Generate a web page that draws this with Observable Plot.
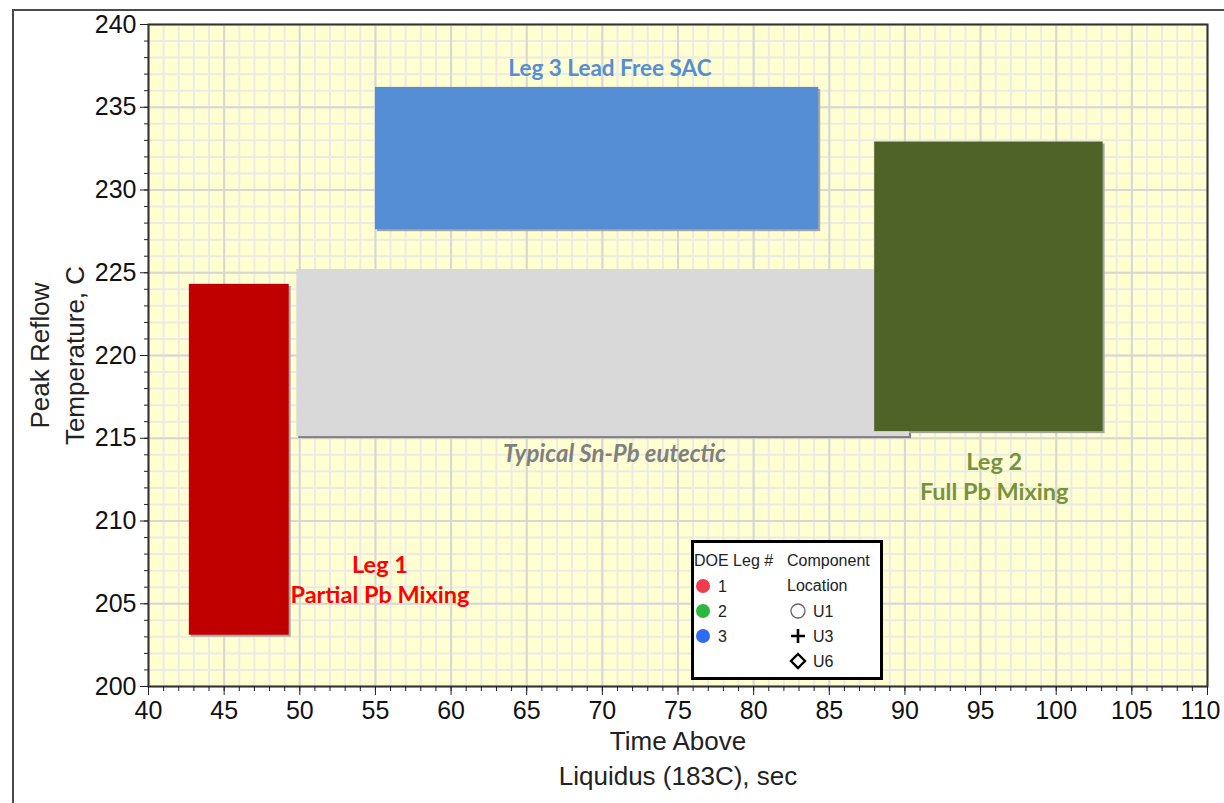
<!DOCTYPE html>
<html>
<head>
<meta charset="utf-8">
<script src="https://cdn.jsdelivr.net/npm/d3@7"></script>
<script src="https://cdn.jsdelivr.net/npm/@observablehq/plot@0.6"></script>
<style>
  html, body { margin: 0; padding: 0; background: #fff; overflow: hidden; }
  #wrap { position: relative; width: 1224px; height: 803px; }
  #outer { position: absolute; left: 12px; top: 9px; width: 1400px; height: 1000px; border-left: 2px solid #4a4a4a; border-top: 2px solid #4a4a4a; pointer-events: none; }
  #legend { position: absolute; left: 691px; top: 540px; width: 186px; height: 134px; border: 3px solid #000; background: #fff; }
</style>
</head>
<body>
<div id="wrap">
  <div id="chart"></div>
  <div id="outer"></div>
  <div id="legend"></div>
</div>
<script>
// ---- data ----
const regions = ["Typical Sn-Pb eutectic", "Leg 1", "Leg 3", "Leg 2"];
const timeStart = [49.8, 42.7, 55, 88];
const timeEnd = [90.3, 49.3, 84.3, 103.1];
const tempLow = [215.1, 203.1, 227.6, 215.4];
const tempHigh = [225.2, 224.3, 236.2, 232.9];
const regionColors = ["#D9D9D9", "#C00000", "#558ED5", "#4F6228"];
const shadowColors = ["#7F7F7F", "#A6A6A6", "#A6A6A6", "#A6A6A6"];

const labelText = ["Leg 3 Lead Free SAC", "Leg 2\nFull Pb Mixing", "Leg 1\nPartial Pb Mixing"];
const labelTime = [70.5, 95.9, 55.3];
const labelTemp = [237.45, 212.75, 206.55];
const labelSizes = [22.5, 23.5, 23.5];
const labelColors = ["#558ED5", "#77933C", "#FF0000"];
const noteText = "Typical Sn-Pb eutectic";
const noteTime = 70.8;
const noteTemp = 214.05;

const xMajor = d3.range(40, 111, 5);
const xMinor = d3.range(40, 111, 1);
const yMajor = d3.range(200, 241, 5);
const yMinor = d3.range(200, 241, 1);

const legLabels = ["1", "2", "3"];
const legColors = ["#F23B4F", "#2DB83D", "#2F6BF5"];
const locLabels = ["U1", "U3", "U6"];
const locSymbols = ["circle", "plus", "diamond"];

// ---- build ----
const boxes = regions.map((r, i) => ({
  r, x1: timeStart[i], x2: timeEnd[i], y1: tempLow[i], y2: tempHigh[i],
  fill: regionColors[i], shadow: shadowColors[i]
}));
const labels = labelText.map((t, i) => ({t, x: labelTime[i], y: labelTemp[i], fill: labelColors[i], size: labelSizes[i]}));

const font = "'Liberation Sans', Arial, sans-serif";
const calib = "Lato, 'Open Sans', sans-serif";
const lastX = xMajor[xMajor.length - 1];

const chart = Plot.plot({
  width: 1224,
  height: 803,
  marginLeft: 148,
  marginRight: 17,
  marginTop: 24,
  marginBottom: 117,
  style: {fontFamily: font, background: "transparent", color: "#111"},
  x: {domain: [40, 110]},
  y: {domain: [200, 240]},
  color: {type: "identity"},
  marks: [
    Plot.frame({fill: "#FFFFD2", stroke: null}),
    Plot.gridX(xMinor, {stroke: "#EBEBE3", strokeOpacity: 1, strokeWidth: 2}),
    Plot.gridY(yMinor, {stroke: "#EBEBE3", strokeOpacity: 1, strokeWidth: 2}),
    Plot.gridX(xMajor, {stroke: "#D8D8D0", strokeOpacity: 1, strokeWidth: 2}),
    Plot.gridY(yMajor, {stroke: "#D8D8D0", strokeOpacity: 1, strokeWidth: 2}),
    Plot.rect(boxes, {x1: "x1", x2: "x2", y1: "y1", y2: "y2", fill: "shadow", dx: 2, dy: 2}),
    Plot.rect(boxes, {x1: "x1", x2: "x2", y1: "y1", y2: "y2", fill: "fill"}),
    ...labels.map(l => Plot.text([l], {x: "x", y: "y", text: "t", fill: "fill", fontFamily: calib, fontWeight: "bold", fontSize: l.size, lineHeight: 1.28})),
    Plot.text([noteText], {x: () => noteTime, y: () => noteTemp, text: d => d, fill: "#7F7F7F", fontFamily: calib, fontWeight: "bold", fontStyle: "italic", fontSize: 24}),
    Plot.frame({stroke: "#333", strokeWidth: 2}),
    Plot.axisX(xMinor, {tickSize: 5, text: null, label: null, stroke: "#222"}),
    Plot.axisY(yMinor, {tickSize: 4, text: null, label: null, stroke: "#222"}),
    Plot.axisX(xMajor, {tickSize: 9, tickPadding: 6, fontSize: 25, label: null, stroke: "#222", fill: "#111", tickFormat: d => d === lastX ? "" : d}),
    Plot.axisX([lastX], {tickSize: 0, tickPadding: 15, dx: -7, fontSize: 25, label: null, fill: "#111"}),
    Plot.axisY(yMajor, {tickSize: 8, tickPadding: 4, fontSize: 25, label: null, stroke: "#222", fill: "#111"}),
    Plot.text(["Time Above"], {frameAnchor: "bottom", dy: 63, fontSize: 26, fill: "#222"}),
    Plot.text(["Liquidus (183C), sec"], {frameAnchor: "bottom", dy: 98, fontSize: 26, fill: "#222"}),
    Plot.text(["Peak Reflow"], {frameAnchor: "left", textAnchor: "middle", dx: -108, rotate: -90, fontSize: 26, fill: "#222"}),
    Plot.text(["Temperature, C"], {frameAnchor: "left", textAnchor: "middle", dx: -73, rotate: -90, fontSize: 26, fill: "#222"})
  ]
});
document.getElementById("chart").append(chart);

// ---- legend ----
const lg = d3.select("#legend").append("svg").attr("width", 186).attr("height", 134)
  .style("font-family", font).style("font-size", "16px").style("fill", "#222");
lg.append("text").attr("x", 0).attr("y", 23).text("DOE Leg #");
lg.append("text").attr("x", 93).attr("y", 23).text("Component");
lg.append("text").attr("x", 93).attr("y", 48).text("Location");
legLabels.forEach((l, i) => {
  const cy = 43 + i * 25;
  lg.append("circle").attr("cx", 9).attr("cy", cy).attr("r", 7).attr("fill", legColors[i]);
  lg.append("text").attr("x", 24).attr("y", cy + 6).text(l);
});
locLabels.forEach((l, i) => {
  const cy = 68 + i * 25, cx = 104;
  const s = locSymbols[i];
  if (s === "circle") lg.append("circle").attr("cx", cx).attr("cy", cy).attr("r", 7).attr("fill", "none").attr("stroke", "#666").attr("stroke-width", 1.3);
  if (s === "plus") lg.append("path").attr("d", `M${cx-7},${cy}H${cx+7}M${cx},${cy-7}V${cy+7}`).attr("stroke", "#000").attr("stroke-width", 2.6);
  if (s === "diamond") lg.append("path").attr("d", `M${cx},${cy-7}L${cx+7},${cy}L${cx},${cy+7}L${cx-7},${cy}Z`).attr("fill", "none").attr("stroke", "#000").attr("stroke-width", 2.4);
  lg.append("text").attr("x", 119).attr("y", cy + 6).text(l);
});
</script>
</body>
</html>
